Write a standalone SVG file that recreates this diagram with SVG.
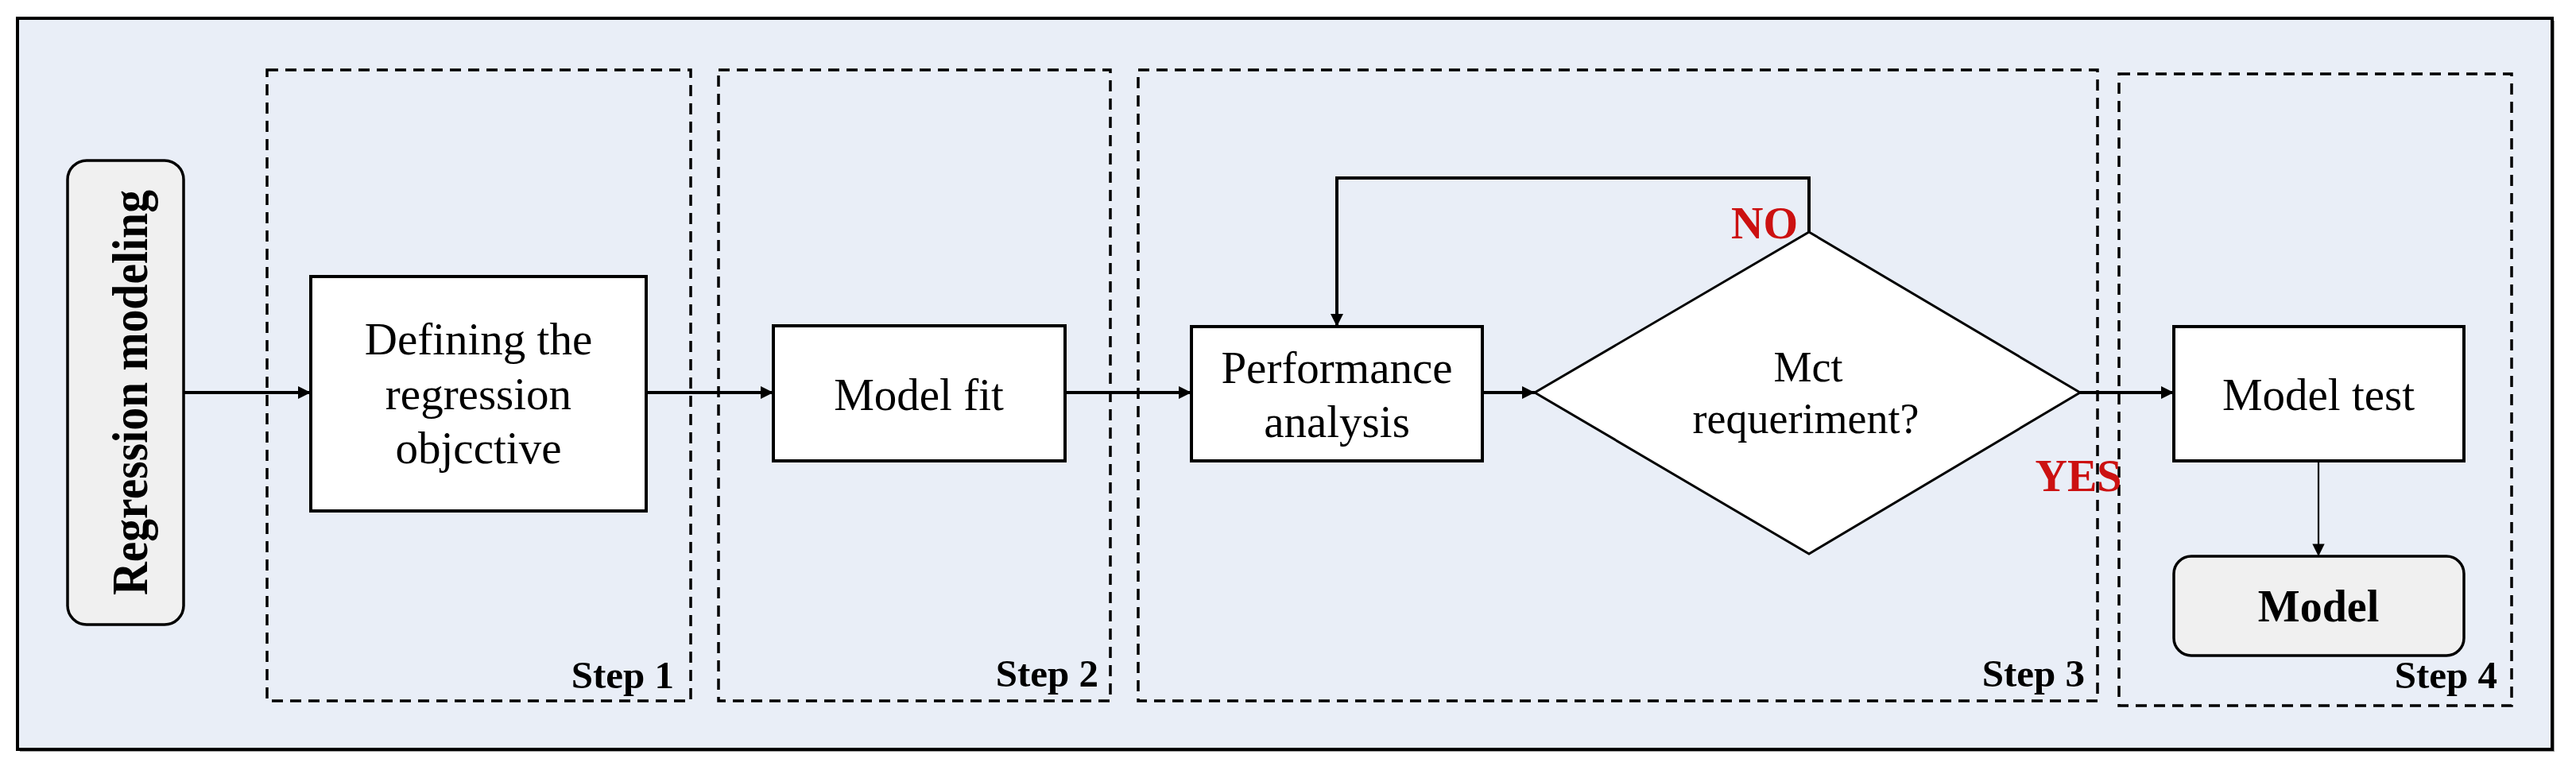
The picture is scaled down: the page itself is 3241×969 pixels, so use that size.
<svg xmlns="http://www.w3.org/2000/svg" width="3241" height="969" viewBox="0 0 3241 969">
<defs>
<marker id="ah" viewBox="0 0 10 10" refX="10" refY="5" markerWidth="5.5" markerHeight="4" markerUnits="strokeWidth" orient="auto">
<path d="M0,0 L10,5 L0,10 Z" fill="#000"/>
</marker>
<marker id="ahs" viewBox="0 0 10 10" refX="10" refY="5" markerWidth="9" markerHeight="7" markerUnits="strokeWidth" orient="auto">
<path d="M0,0 L10,5 L0,10 Z" fill="#000"/>
</marker>
<style>
.txt{font-family:"Liberation Serif","Times New Roman",serif;fill:#000;text-anchor:middle}
.reg{font-size:57px}
.dia{font-size:54px}
.step{font-size:49px;font-weight:bold;text-anchor:end}
.lab{font-size:56px;font-weight:bold;fill:#CC1111}
.box{fill:#fff;stroke:#000;stroke-width:4}
.term{fill:#F0F0F0;stroke:#000;stroke-width:3.5}
.dash{fill:none;stroke:#000;stroke-width:3.5;stroke-dasharray:14 9}
.con{fill:none;stroke:#000;stroke-width:4}
</style>
</defs>
<rect x="0" y="0" width="3241" height="969" fill="#fff"/>
<g id="frame">
<rect x="25" y="26" width="3189" height="920" fill="#9a9a9a"/>
<rect x="22" y="23" width="3189" height="920" fill="#E9EEF7" stroke="#000" stroke-width="4"/>
</g>
<g id="steps">
<g id="step1"><rect class="dash" x="336" y="88" width="533" height="794"/><text class="txt step" x="848" y="866">Step 1</text></g>
<g id="step2"><rect class="dash" x="904" y="88" width="493" height="794"/><text class="txt step" x="1382" y="864">Step 2</text></g>
<g id="step3"><rect class="dash" x="1432" y="88" width="1207" height="794"/><text class="txt step" x="2623" y="864">Step 3</text></g>
<g id="step4"><rect class="dash" x="2666" y="93" width="494" height="795"/><text class="txt step" x="3142" y="866">Step 4</text></g>
</g>
<g id="connectors">
<line class="con" x1="231" y1="494" x2="391" y2="494" marker-end="url(#ah)"/>
<line class="con" x1="813" y1="494" x2="973" y2="494" marker-end="url(#ah)"/>
<line class="con" x1="1340" y1="494" x2="1499" y2="494" marker-end="url(#ah)"/>
<line class="con" x1="1865" y1="494" x2="1931" y2="494" marker-end="url(#ah)"/>
<line class="con" x1="2617" y1="494" x2="2735" y2="494" marker-end="url(#ah)"/>
<polyline class="con" points="2276,292 2276,224 1682,224 1682,411" stroke-width="3" marker-end="url(#ah)"/>
<line x1="2917" y1="580" x2="2917" y2="700" stroke="#000" stroke-width="2.2" marker-end="url(#ahs)"/>
</g>
<g id="n-regression">
<rect class="term" x="85" y="202" width="146" height="584" rx="24" ry="24"/>
<text class="txt" font-size="64" font-weight="bold" transform="translate(185,494) rotate(-90)" textLength="510" lengthAdjust="spacingAndGlyphs">Regression modeling</text>
</g>
<g id="n-define">
<rect class="box" x="391" y="348" width="422" height="295"/>
<text class="txt reg" x="602" y="446">Defining the</text>
<text class="txt reg" x="602" y="515">regression</text>
<text class="txt reg" x="602" y="583">objcctive</text>
</g>
<g id="n-fit">
<rect class="box" x="973" y="410" width="367" height="170"/>
<text class="txt reg" x="1156" y="516">Model fit</text>
</g>
<g id="n-perf">
<rect class="box" x="1499" y="411" width="366" height="169"/>
<text class="txt reg" x="1682" y="482">Performance</text>
<text class="txt reg" x="1682" y="550">analysis</text>
</g>
<g id="n-decision">
<polygon points="2276,292 2617,494 2276,697 1931,494" fill="#fff" stroke="#000" stroke-width="3"/>
<text class="txt dia" x="2275" y="480">Mct</text>
<text class="txt dia" x="2272" y="545">requeriment?</text>
<text class="txt lab" x="2220" y="300" text-anchor="end">NO</text>
<text class="txt lab" x="2615" y="618" text-anchor="end">YES</text>
</g>
<g id="n-test">
<rect class="box" x="2735" y="411" width="365" height="169"/>
<text class="txt reg" x="2917" y="516">Model test</text>
</g>
<g id="n-model">
<rect class="term" x="2735" y="700" width="365" height="125" rx="22" ry="22" stroke-width="2.5"/>
<text class="txt" x="2917" y="782" font-size="56" font-weight="bold">Model</text>
</g>
</svg>
